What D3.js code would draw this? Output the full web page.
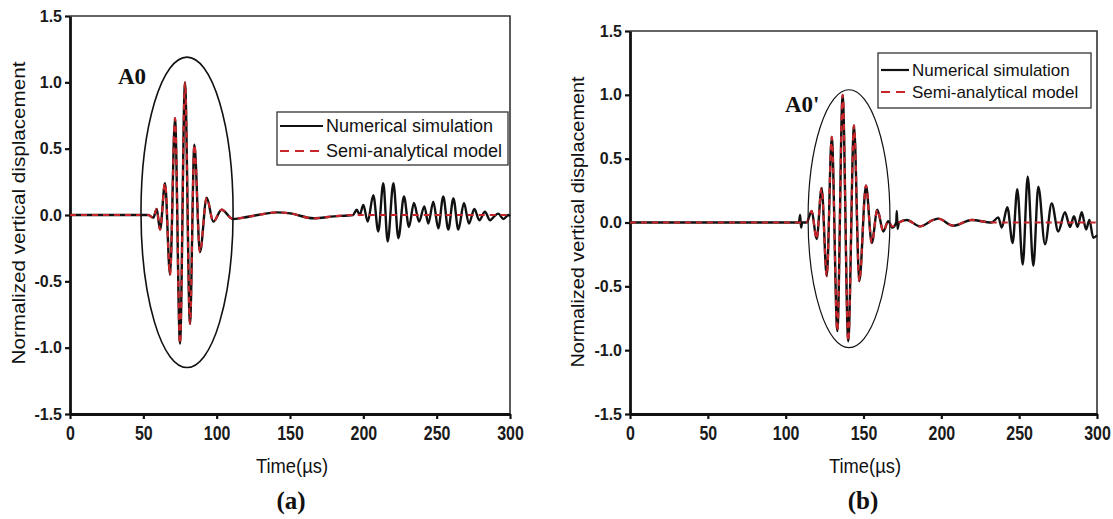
<!DOCTYPE html>
<html>
<head>
<meta charset="utf-8">
<script src="https://cdn.jsdelivr.net/npm/d3@7"></script>
<style>
body { margin: 0; background: #fff; }
text { font-family: "Liberation Sans", Arial, sans-serif; }
</style>
</head>
<body>
<svg id="chart" width="1113" height="519"></svg>
<script>
var xTicks = [0, 50, 100, 150, 200, 250, 300];
var yTicks = [-1.5, -1.0, -0.5, 0.0, 0.5, 1.0, 1.5];
var legendNames = ["Numerical simulation", "Semi-analytical model"];

// panel (a): [time µs, normalized displacement]
var simA = [[0,0],[53.4,0],[56.8,-0.02],[59.1,0.045],[61.4,-0.11],[64.8,0.24],[68.2,-0.45],[71.6,0.73],[75.0,-0.97],[78.4,1.0],
  [81.8,-0.82],[84.8,0.53],[88.6,-0.28],[93.2,0.13],[97.7,-0.05],[103.4,0.04],[110.9,-0.03],[118,-0.02],[128,0],[141,0.02],
  [150,0.012],[166,-0.025],[180,-0.01],[193,0],[195.5,0.04],[197.5,0],[200,0.075],[203,-0.05],[206.8,0.15],[210.2,-0.125],
  [213.6,0.24],[216.6,-0.2],[220.5,0.24],[223.9,-0.175],[227.7,0.14],[231.1,-0.09],[234.5,0.09],[238,-0.05],[241.6,0.065],
  [244.3,-0.065],[247.7,0.1],[251.1,-0.1],[254.5,0.14],[257.9,-0.11],[261.4,0.125],[264.8,-0.11],[268.6,0.09],[272,-0.065],
  [275.7,0.045],[279.1,-0.04],[282.9,0.025],[286.4,-0.04],[289.3,-0.01],[292,0.01],[295.5,-0.03],[298.9,0],[300,-0.01]];
var modelA = [[0,0],[53.4,0],[56.8,-0.02],[59.1,0.045],[61.4,-0.11],[64.8,0.24],[68.2,-0.45],[71.6,0.73],[75.0,-0.97],[78.4,1.0],
  [81.8,-0.82],[84.8,0.53],[88.6,-0.28],[93.2,0.13],[97.7,-0.05],[103.4,0.04],[110.9,-0.03],[118,-0.02],[128,0],[141,0.02],
  [150,0.012],[166,-0.025],[180,-0.01],[193,0],[300,0]];

// panel (b)
var simB = [[0,0],[108.5,0],[109.3,0.06],[109.9,-0.04],[110.6,0],[113.5,0],[116.7,0.09],[119.9,-0.13],[123.1,0.27],[126.4,-0.42],
  [129.6,0.67],[133.2,-0.85],[136.6,1.0],[140.2,-0.93],[143.9,0.76],[147.3,-0.46],[151.6,0.29],[155.3,-0.16],[158.9,0.1],
  [162.7,-0.07],[165.9,0.01],[168.5,-0.04],[171.0,0],[171.4,0.09],[171.9,-0.05],[172.8,0],[177.7,0.02],[186.3,-0.03],
  [194.8,0.02],[198,0.03],[207.7,-0.025],[219.5,0.02],[232.3,0],[236.6,0.04],[238.8,-0.04],[242.4,0.12],[245.8,-0.16],
  [248.8,0.26],[252.3,-0.33],[255.5,0.36],[259.1,-0.34],[262.3,0.28],[266.6,-0.17],[270.9,0.15],[275.1,-0.07],[279.4,0.08],
  [282.7,-0.035],[285.2,0.05],[287.5,-0.035],[290.2,0.08],[293,-0.055],[295.1,0.02],[297.6,-0.12],[300,-0.1]];
var modelB = [[0,0],[113.5,0],[116.7,0.09],[119.9,-0.13],[123.1,0.27],[126.4,-0.42],[129.6,0.67],[133.2,-0.85],[136.6,1.0],
  [140.2,-0.93],[143.9,0.76],[147.3,-0.46],[151.6,0.29],[155.3,-0.16],[158.9,0.1],[162.7,-0.07],[165.9,0.01],[168.5,-0.03],
  [172.8,0],[177.7,0.02],[186.3,-0.03],[194.8,0.02],[198,0.03],[207.7,-0.025],[219.5,0.02],[232.3,0],[300,0]];

// A0 ellipses: centre time, centre value, half width (µs), half height
var ellipseA = [79.8, 0.02, 31.4, 1.17];
var ellipseB = [140.7, 0.03, 26.3, 1.01];

var svg = d3.select("#chart");
var black = "#111";
var red = "#c8262b";

function drawPanel(p) {
    var x = d3.scaleLinear().domain([0, 300]).range([p.left, p.right]);
    var y = d3.scaleLinear().domain([-1.5, 1.5]).range([p.bottom, p.top]);
    var g = svg.append("g");

    // top + right frame
    g.append("path")
        .attr("d", "M" + p.left + "," + p.top + "H" + p.right + "V" + p.bottom)
        .attr("fill", "none")
        .attr("stroke", "#333")
        .attr("stroke-width", 1.6);

    var xAxis = d3.axisBottom(x).tickValues(xTicks).tickSize(5).tickSizeOuter(0).tickPadding(4);
    var yAxis = d3.axisLeft(y).tickValues(yTicks).tickSize(5).tickSizeOuter(0).tickPadding(3)
        .tickFormat(function (d) { return d.toFixed(1); });

    var gx = g.append("g")
        .attr("transform", "translate(0," + p.bottom + ")")
        .call(xAxis);
    var gy = g.append("g")
        .attr("transform", "translate(" + p.left + ",0)")
        .call(yAxis);

    [gx, gy].forEach(function (a) {
        a.select(".domain").attr("stroke", black).attr("stroke-width", 2.8);
        a.selectAll(".tick line").attr("stroke", black).attr("stroke-width", 2.2);
        a.selectAll(".tick text")
            .attr("fill", "#1a1a1a")
            .style("font-size", "16px")
            .style("font-weight", "bold");
    });
    gx.selectAll(".tick text").attr("transform", "scale(1,1.3)");

    // curves
    var line = d3.line()
        .x(function (d) { return x(d[0]); })
        .y(function (d) { return y(d[1]); })
        .curve(d3.curveMonotoneX);

    g.append("path")
        .datum(p.sim)
        .attr("d", line)
        .attr("fill", "none")
        .attr("stroke", black)
        .attr("stroke-width", 2.4);

    g.append("path")
        .datum(p.model)
        .attr("d", line)
        .attr("fill", "none")
        .attr("stroke", red)
        .attr("stroke-width", 2.2)
        .attr("stroke-dasharray", "6,5");

    // ellipse round the A0 packet
    var e = p.ellipse;
    g.append("ellipse")
        .attr("cx", x(e[0]))
        .attr("cy", y(e[1]))
        .attr("rx", x(e[0] + e[2]) - x(e[0]))
        .attr("ry", y(e[1]) - y(e[1] + e[3]))
        .attr("fill", "none")
        .attr("stroke", black)
        .attr("stroke-width", p.ellipseWidth);

    g.append("text")
        .attr("x", p.a0[0])
        .attr("y", p.a0[1])
        .style("font-family", "'Liberation Serif', 'Times New Roman', serif")
        .style("font-weight", "bold")
        .style("font-size", "23px")
        .attr("fill", black)
        .text(p.a0Label);

    // legend
    var lg = svg.append("g");
    lg.append("rect")
        .attr("x", p.legend.x)
        .attr("y", p.legend.y)
        .attr("width", p.legend.w)
        .attr("height", p.legend.h)
        .attr("fill", "#fff")
        .attr("stroke", "#333")
        .attr("stroke-width", 1.3);
    var item = lg.selectAll(".legend")
        .data(legendNames)
        .enter()
        .append("g")
        .attr("class", "legend")
        .attr("transform", function (d, i) {
            return "translate(" + p.legend.x + "," + (p.legend.y + p.legend.row0 + i * p.legend.step) + ")";
        });
    item.append("line")
        .attr("x1", 3)
        .attr("x2", p.legend.sample)
        .attr("y1", 0)
        .attr("y2", 0)
        .attr("stroke", function (d, i) { return i === 0 ? black : red; })
        .attr("stroke-width", 2.2)
        .attr("stroke-dasharray", function (d, i) { return i === 0 ? null : "9,6"; });
    item.append("text")
        .attr("x", p.legend.sample + 3)
        .attr("y", 0)
        .attr("dy", "0.36em")
        .style("font-size", p.legend.font + "px")
        .attr("fill", black)
        .text(function (d) { return d; });

    // axis titles
    svg.append("text")
        .attr("transform", "translate(" + p.yTitle[0] + "," + p.yTitle[1] + ") rotate(-90)")
        .attr("text-anchor", "middle")
        .attr("dy", "0.35em")
        .attr("textLength", p.yTitle[2])
        .attr("lengthAdjust", "spacingAndGlyphs")
        .style("font-size", "18px")
        .attr("fill", black)
        .text("Normalized vertical displacement");

    svg.append("text")
        .attr("x", p.xTitle[0])
        .attr("y", p.xTitle[1])
        .attr("text-anchor", "middle")
        .attr("textLength", 72)
        .attr("lengthAdjust", "spacingAndGlyphs")
        .style("font-size", "20px")
        .attr("fill", black)
        .text("Time(µs)");

    svg.append("text")
        .attr("x", p.tag[0])
        .attr("y", p.tag[1])
        .attr("text-anchor", "middle")
        .style("font-family", "'Liberation Serif', 'Times New Roman', serif")
        .style("font-weight", "bold")
        .style("font-size", "25px")
        .attr("fill", black)
        .text(p.tagLabel);
}

drawPanel({
    left: 70, right: 510, top: 16, bottom: 414,
    sim: simA, model: modelA,
    ellipse: ellipseA, ellipseWidth: 1.6,
    a0: [118, 84], a0Label: "A0",
    legend: { x: 277, y: 112, w: 231, h: 53, row0: 14, step: 25, sample: 46, font: 18 },
    yTitle: [19, 213, 303],
    xTitle: [292, 473],
    tag: [291, 509], tagLabel: "(a)"
});

drawPanel({
    left: 630, right: 1097, top: 31, bottom: 414,
    sim: simB, model: modelB,
    ellipse: ellipseB, ellipseWidth: 1.2,
    a0: [785, 112], a0Label: "A0'",
    legend: { x: 878, y: 53, w: 213, h: 55, row0: 17, step: 22, sample: 31, font: 17 },
    yTitle: [578, 222, 291],
    xTitle: [865, 473],
    tag: [863, 509], tagLabel: "(b)"
});
</script>
</body>
</html>
